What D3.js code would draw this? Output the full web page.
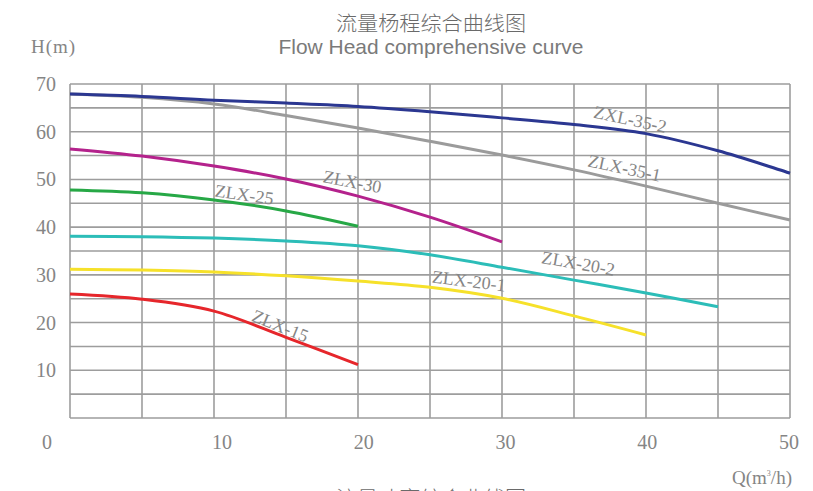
<!DOCTYPE html>
<html><head><meta charset="utf-8">
<script src="https://cdn.jsdelivr.net/npm/d3@7"></script>
<style>body{margin:0;background:#fff;}svg{display:block;}</style>
</head><body>
<svg id="c" width="813" height="491"></svg>
<script>
const xTicks = [0,10,20,30,40,50];
const yTicks = [10,20,30,40,50,60,70];
const seriesNames = ["ZXL-35-2","ZLX-35-1","ZLX-30","ZLX-25","ZLX-20-2","ZLX-20-1","ZLX-15"];
const seriesColors = ["#2b3791","#9b9b9b","#b4228c","#27a846","#2cbdb8","#f6e12a","#e6262b"];
const q35 = [0,5,10,15,20,25,30,35,40,45,50];
const h35_2 = [67.9,67.4,66.6,66.0,65.3,64.2,62.9,61.5,59.6,56.0,51.3];
const h35_1 = [67.9,67.2,65.8,63.4,60.8,58.0,55.1,52.0,48.6,45.0,41.5];
const q30 = [0,5,10,15,20,25,30];
const h30 = [56.4,54.9,52.8,50.1,46.5,42.1,36.9];
const q25 = [0,5,10,15,20];
const h25 = [47.8,47.2,45.7,43.4,40.2];
const q20_2 = [0,5,10,15,20,25,30,35,40,45];
const h20_2 = [38.1,38.0,37.7,37.1,36.1,34.2,31.6,28.9,26.2,23.3];
const q20_1 = [0,5,10,15,20,25,30,35,40];
const h20_1 = [31.2,31.0,30.6,29.8,28.7,27.4,25.1,21.4,17.4];
const q15 = [0,5,10,15,20];
const h15 = [26.0,24.9,22.4,16.9,11.2];
// label anchor (Q, H) and rotation angle
const labelQ = [38.9,38.5,19.6,12.1,35.3,27.7,14.6];
const labelH = [62.6,52.4,49.5,46.8,32.4,28.7,19.3];
const labelAngle = [12,12,11,8,10,7,22];

const svg = d3.select("#c");
const x = d3.scaleLinear().domain([0,50]).range([70,790]);
const y = d3.scaleLinear().domain([0,70]).range([418,84]);
const xLabelScale = d3.scaleLinear().domain([10,50]).range([222,789]);
const gridColor = "#9d9d9d";
const txtColor = "#858585";
const serif = "'Liberation Serif','DejaVu Serif',serif";

// grid
const g = svg.append("g");
g.selectAll("line.v").data(d3.range(0,51,5)).join("line")
  .attr("x1",d=>x(d)).attr("x2",d=>x(d)).attr("y1",y(0)).attr("y2",y(70))
  .attr("stroke",gridColor).attr("stroke-width",1.6);
g.selectAll("line.h").data(d3.range(0,71,5)).join("line")
  .attr("x1",x(0)).attr("x2",x(50)).attr("y1",d=>y(d)).attr("y2",d=>y(d))
  .attr("stroke",gridColor).attr("stroke-width",1.6);

// axis labels
svg.selectAll("text.yl").data(yTicks).join("text")
  .attr("x",46).attr("y",d=>y(d)+7).attr("text-anchor","middle")
  .attr("font-family",serif).attr("font-size",20).attr("fill",txtColor).text(d=>d);
svg.selectAll("text.xl").data(xTicks).join("text")
  .attr("x",d=>d===0 ? x(0)-23 : xLabelScale(d)).attr("y",449).attr("text-anchor","middle")
  .attr("font-family",serif).attr("font-size",20).attr("fill",txtColor).text(d=>d);

svg.append("text").attr("x",53).attr("y",53).attr("text-anchor","middle")
  .attr("font-family",serif).attr("font-size",19).attr("fill",txtColor)
  .attr("textLength",44).attr("lengthAdjust","spacing").text("H(m)");
const ql = svg.append("text").attr("x",762).attr("y",484).attr("text-anchor","middle")
  .attr("font-family",serif).attr("font-size",19).attr("fill",txtColor);
ql.append("tspan").text("Q(m");
ql.append("tspan").attr("font-size",8).attr("dy",-8).text("3");
ql.append("tspan").attr("dy",8).text("/h)");

// titles
svg.append("text").attr("x",431).attr("y",31).attr("text-anchor","middle")
  .attr("font-family","'Noto Sans CJK SC',sans-serif").attr("font-weight",300).attr("font-size",20)
  .attr("fill","#6a6a6a").attr("textLength",190).attr("lengthAdjust","spacingAndGlyphs").text("流量杨程综合曲线图");
svg.append("text").attr("x",431).attr("y",54).attr("text-anchor","middle")
  .attr("font-family","'Liberation Sans',Arial,sans-serif").attr("font-size",21)
  .attr("fill","#7a7a7a").attr("textLength",305).attr("lengthAdjust","spacingAndGlyphs").text("Flow Head comprehensive curve");
svg.append("text").attr("x",431).attr("y",506).attr("text-anchor","middle")
  .attr("font-family","'Noto Sans CJK SC',sans-serif").attr("font-weight",300).attr("font-size",20)
  .attr("fill","#6a6a6a").attr("textLength",190).attr("lengthAdjust","spacingAndGlyphs").text("流量功率综合曲线图");

// curves
const series = [
  [q35,h35_2],[q35,h35_1],[q30,h30],[q25,h25],[q20_2,h20_2],[q20_1,h20_1],[q15,h15]
];
const line = d3.line().x(d=>x(d[0])).y(d=>y(d[1])).curve(d3.curveCatmullRom.alpha(0.5));
const order = [1,0,2,3,4,5,6];
order.forEach(i=>{
  const [qs,hs] = series[i];
  svg.append("path").datum(qs.map((q,j)=>[q,hs[j]]))
    .attr("d",line).attr("fill","none").attr("stroke",seriesColors[i]).attr("stroke-width",3);
});

// labels
seriesNames.forEach((n,i)=>{
  svg.append("text").attr("transform",`translate(${x(labelQ[i])},${y(labelH[i])}) rotate(${labelAngle[i]})`)
    .attr("text-anchor","middle").attr("dy",6)
    .attr("font-family",serif).attr("font-size",18).attr("fill",txtColor).text(n);
});
</script>
</body></html>
